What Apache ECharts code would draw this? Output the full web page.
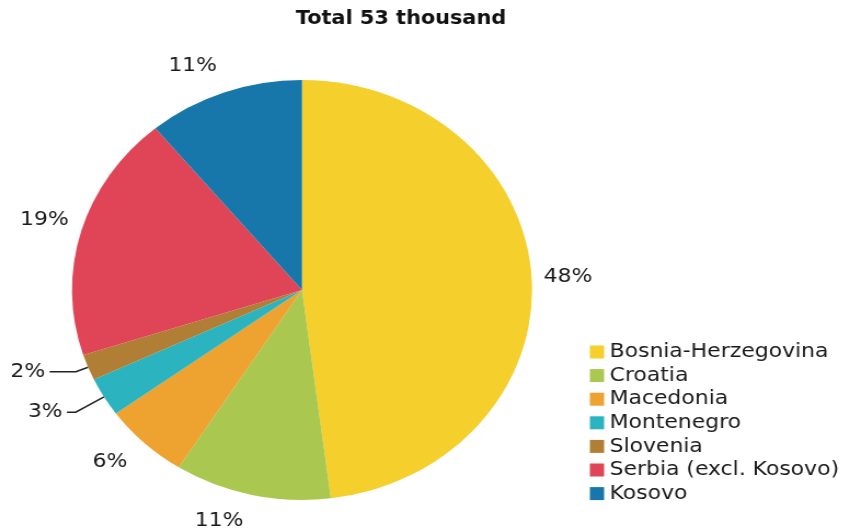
<!DOCTYPE html>
<html>
<head>
<meta charset="utf-8">
<script src="https://cdn.jsdelivr.net/npm/echarts@6/dist/echarts.min.js"></script>
<style>
html,body{margin:0;padding:0;background:#fff;overflow:hidden;}
#main{width:776px;height:532px;transform:scaleX(1.0954);transform-origin:0 0;}
</style>
</head>
<body>
<div id="main"></div>
<script>
const titleText = 'Total 53 thousand';
const categories = ['Bosnia-Herzegovina', 'Croatia', 'Macedonia', 'Montenegro', 'Slovenia', 'Serbia (excl. Kosovo)', 'Kosovo'];
const shares = [48, 11, 6, 3, 2, 19, 11];

const palette = ['#F5CF2B', '#AAC850', '#EEA22F', '#2BB4C0', '#B07E34', '#E04557', '#1777AB'];
// label placement per slice (line length, second segment, text distance, show line)
const labelGeom = [
  {len: 1, len2: 0, dist: 10, line: false},
  {len: 26, len2: 0, dist: 2, line: false},
  {len: 26, len2: 0, dist: -2, line: false},
  {len: 30, len2: 8, dist: 4, line: true},
  {len: 12, len2: 24, dist: 4, line: true},
  {len: 41, len2: 0, dist: -28, line: false},
  {len: 28, len2: 0, dist: -3, line: false}
];

const chart = echarts.init(document.getElementById('main'), null, {renderer: 'canvas'});
const font = 'DejaVu Sans';

const seriesData = categories.map((name, i) => ({
  name: name,
  value: shares[i],
  itemStyle: {color: palette[i]},
  label: {distanceToLabelLine: labelGeom[i].dist},
  labelLine: {show: labelGeom[i].line, length: labelGeom[i].len, length2: labelGeom[i].len2}
}));

chart.setOption({
  animation: false,
  backgroundColor: '#ffffff',
  title: {
    text: titleText,
    left: 265,
    top: 5,
    textStyle: {fontFamily: font, fontWeight: 'bold', fontSize: 19, color: '#111'}
  },
  legend: {
    orient: 'vertical',
    left: 533.5,
    top: 337,
    itemWidth: 13,
    itemHeight: 13,
    itemGap: 3.6,
    icon: 'rect',
    selectedMode: false,
    data: categories,
    textStyle: {fontFamily: font, fontSize: 20, lineHeight: 20, color: '#1a1a1a', padding: [0, 0, 0, 0]}
  },
  series: [{
    type: 'pie',
    center: [275.7, 290],
    radius: 210,
    startAngle: 90,
    clockwise: true,
    avoidLabelOverlap: false,
    minShowLabelAngle: 0,
    silent: true,
    itemStyle: {borderWidth: 0},
    label: {
      show: true,
      position: 'outside',
      formatter: '{c}%',
      fontFamily: font,
      fontSize: 20,
      color: '#1a1a1a'
    },
    labelLine: {
      show: false,
      lineStyle: {color: '#222', width: 1.5}
    },
    emphasis: {disabled: true},
    data: seriesData
  }]
});
</script>
</body>
</html>
